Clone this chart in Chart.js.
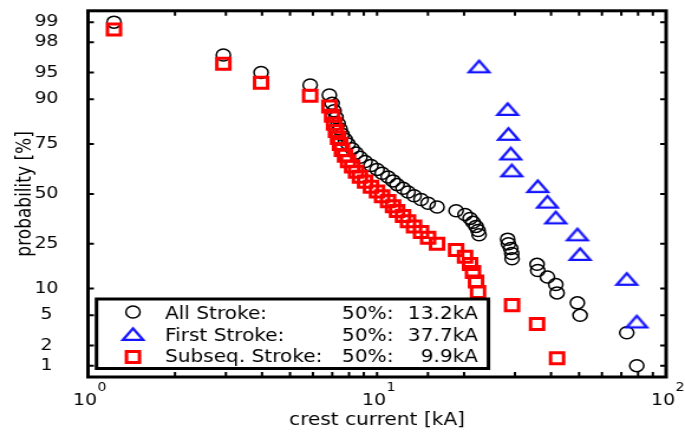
<!DOCTYPE html>
<html>
<head>
<meta charset="utf-8">
<script src="https://cdn.jsdelivr.net/npm/chart.js@4/dist/chart.umd.min.js"></script>
<style>
    html, body { margin: 0; padding: 0; background: #fff; overflow: hidden; }
    /* the source picture is stretched sideways, so the chart is drawn narrower and widened */
    #wrap { width: 580px; height: 434px; transform: scaleX(1.181); transform-origin: 0 0; }
</style>
</head>
<body>
<div id="wrap"><canvas id="chart"></canvas></div>
<script>
// crest current [kA], sorted ascending
const allCurrent = [1.23, 2.94, 3.97, 5.87, 6.84, 6.99, 7.10, 7.21, 7.33, 7.45,
    7.56, 7.75, 7.94, 8.20, 8.46, 8.73, 9.09, 9.53, 10.0, 10.41,
    10.92, 11.36, 11.73, 12.30, 12.80, 13.43, 14.20, 15.02, 16.13, 18.77,
    20.16, 20.98, 21.48, 22.00, 22.36, 22.54, 28.30, 28.47, 29.01, 29.25,
    29.32, 35.78, 35.98, 38.85, 41.53, 41.96, 49.33, 50.40, 73.11, 79.17]
const allProb = [99, 97, 95, 93, 91, 89, 87, 85, 83, 81,
    79, 77, 75, 73, 71, 69, 67, 65, 63, 61,
    59, 57, 55, 53, 51, 49, 47, 45, 43, 41,
    39, 37, 35, 33, 31, 29, 27, 25, 23, 21,
    19, 17, 15, 13, 11, 9, 7, 5, 3, 1]

const firstCurrent = [22.54, 28.30, 28.47, 29.01, 29.25, 35.98, 38.85, 41.53, 49.33, 50.40, 73.11, 79.17]
const firstProb = [95.8, 87.5, 79.2, 70.8, 62.5, 54.2, 45.8, 37.5, 29.2, 20.8, 12.5, 4.2]

const subCurrent = [1.23, 2.94, 3.97, 5.87, 6.84, 6.99, 7.10, 7.21, 7.33, 7.45,
    7.56, 7.75, 7.94, 8.20, 8.46, 8.73, 9.09, 9.53, 10.0, 10.41,
    10.92, 11.36, 11.73, 12.30, 12.80, 13.43, 14.20, 15.02, 16.13, 18.77,
    20.16, 20.98, 21.48, 22.00, 22.36, 29.32, 35.78, 41.96]
const subProb = [98.7, 96.1, 93.4, 90.8, 88.2, 85.5, 82.9, 80.3, 77.6, 75.0,
    72.4, 69.7, 67.1, 64.5, 61.8, 59.2, 56.6, 53.9, 51.3, 48.7,
    46.1, 43.4, 40.8, 38.2, 35.5, 32.9, 30.3, 27.6, 25.0, 22.4,
    19.7, 17.1, 14.5, 11.8, 9.2, 6.6, 3.9, 1.3]

const probTicks = [1, 2, 5, 10, 25, 50, 75, 90, 95, 98, 99]
const legendNames = ['All Stroke:', 'First Stroke:', 'Subseq. Stroke:']
const legendMedians = ['13.2kA', '37.7kA', '9.9kA']

// inverse normal cdf (Acklam)
function probit(p) {
    const a = [-39.69683028665376, 220.9460984245205, -275.9285104469687, 138.3577518672690, -30.66479806614716, 2.506628277459239]
    const b = [-54.47609879822406, 161.5858368580409, -155.6989798598866, 66.80131188771972, -13.28068155288572]
    const c = [-0.007784894002430293, -0.3223964580411365, -2.400758277161838, -2.549732539343734, 4.374664141464968, 2.938163982698783]
    const d = [0.007784695709041462, 0.3224671290700398, 2.445134137142996, 3.754408661907416]
    const tail = q => (((((c[0] * q + c[1]) * q + c[2]) * q + c[3]) * q + c[4]) * q + c[5]) /
        ((((d[0] * q + d[1]) * q + d[2]) * q + d[3]) * q + 1)
    if (p < 0.02425) return tail(Math.sqrt(-2 * Math.log(p)))
    if (p > 1 - 0.02425) return -tail(Math.sqrt(-2 * Math.log(1 - p)))
    const q = p - 0.5, r = q * q
    return (((((a[0] * r + a[1]) * r + a[2]) * r + a[3]) * r + a[4]) * r + a[5]) * q /
        (((((b[0] * r + b[1]) * r + b[2]) * r + b[3]) * r + b[4]) * r + 1)
}

function normCdf(z) {
    const t = 1 / (1 + 0.2316419 * Math.abs(z))
    const y = 0.3989423 * Math.exp(-z * z / 2) *
        t * (0.3193815 + t * (-0.3565638 + t * (1.781478 + t * (-1.821256 + t * 1.330274))))
    return z > 0 ? 1 - y : y
}

// normal probability paper axis
class ProbitScale extends Chart.Scale {
    determineDataLimits() {
        this.min = this.options.min
        this.max = this.options.max
    }
    buildTicks() {
        return probTicks.filter(v => v >= this.min && v <= this.max).map(v => ({ value: v }))
    }
    getLabelForValue(v) {
        return String(v)
    }
    getPixelForValue(v) {
        const z0 = probit(this.min / 100), z1 = probit(this.max / 100)
        return this.getPixelForDecimal((probit(v / 100) - z0) / (z1 - z0))
    }
    getPixelForTick(i) {
        return this.getPixelForValue(this.ticks[i].value)
    }
    getValueForPixel(px) {
        const z0 = probit(this.min / 100), z1 = probit(this.max / 100)
        return 100 * normCdf(z0 + this.getDecimalForPixel(px) * (z1 - z0))
    }
}
ProbitScale.id = 'probit'
ProbitScale.defaults = {}
Chart.register(ProbitScale)

function trianglePoint(w, h, lw, color) {
    const c = document.createElement('canvas')
    c.width = w + lw * 2 + 2
    c.height = h + lw * 2 + 2
    const g = c.getContext('2d')
    g.strokeStyle = color
    g.lineWidth = lw
    g.beginPath()
    g.moveTo(c.width / 2, lw + 1)
    g.lineTo(c.width / 2 + w / 2, lw + 1 + h)
    g.lineTo(c.width / 2 - w / 2, lw + 1 + h)
    g.closePath()
    g.stroke()
    return c
}

const triangle = trianglePoint(17, 11.5, 2.4, '#1414ff')

const toPoints = (xs, ys) => xs.map((v, i) => ({ x: v, y: ys[i] }))

const frame = {
    id: 'frame',
    afterDraw(chart) {
        const { ctx, chartArea: a, scales: { x, y } } = chart
        const sets = chart.data.datasets
        ctx.save()

        // inward ticks on all four sides
        ctx.strokeStyle = '#000'
        ctx.lineWidth = 2
        ctx.beginPath()
        x.ticks.forEach(t => {
            const px = x.getPixelForValue(t.value)
            ctx.moveTo(px, a.bottom); ctx.lineTo(px, a.bottom - 5)
            ctx.moveTo(px, a.top); ctx.lineTo(px, a.top + 5)
        })
        y.ticks.forEach(t => {
            const py = y.getPixelForValue(t.value)
            ctx.moveTo(a.left, py); ctx.lineTo(a.left + 5, py)
            ctx.moveTo(a.right, py); ctx.lineTo(a.right - 5, py)
        })
        ctx.stroke()
        ctx.lineWidth = 3
        ctx.strokeRect(a.left, a.top, a.right - a.left, a.bottom - a.top)

        // decade exponents
        ctx.fillStyle = '#000'
        ctx.font = '12px "DejaVu Sans"'
        ctx.textAlign = 'left'
        ctx.textBaseline = 'middle'
        x.ticks.forEach(t => {
            const e = Math.round(Math.log10(t.value))
            if (Math.abs(Math.log10(t.value) - e) < 1e-9) {
                ctx.fillText(String(e), x.getPixelForValue(t.value) + 8, 388)
            }
        })

        // legend box
        ctx.fillStyle = '#fff'
        ctx.fillRect(81.7, 299, 331.9, 69.5)
        ctx.lineWidth = 3
        ctx.strokeRect(81.7, 299, 331.9, 69.5)
        const rows = [315, 337, 358]
        const marks = [312, 334, 357]
        sets.forEach((ds, i) => {
            ctx.fillStyle = 'rgba(0,0,0,0)'
            ctx.strokeStyle = ds.borderColor
            ctx.lineWidth = ds.pointBorderWidth
            Chart.helpers.drawPoint(ctx, {
                pointStyle: ds.pointStyle,
                radius: ds.pointRadius,
                borderWidth: ds.pointBorderWidth,
                rotation: 0
            }, 112.6, marks[i])
            ctx.fillStyle = '#000'
            ctx.font = '17px "DejaVu Sans"'
            ctx.textAlign = 'left'
            ctx.fillText(legendNames[i], 139.7, rows[i])
            ctx.fillText('50%:', 289.6, rows[i])
            ctx.textAlign = 'right'
            ctx.fillText(legendMedians[i], 404.7, rows[i])
        })
        ctx.restore()
    }
}

Chart.defaults.font.family = '"DejaVu Sans"'
Chart.defaults.color = '#000'

const chart = new Chart(document.getElementById('chart'), {
    type: 'scatter',
    data: {
        datasets: [
            {
                label: 'All Stroke',
                data: toPoints(allCurrent, allProb),
                pointStyle: 'circle',
                pointRadius: 6,
                pointBorderWidth: 1.5,
                borderColor: '#000',
                backgroundColor: 'rgba(0,0,0,0)',
                order: 2
            },
            {
                label: 'First Stroke',
                data: toPoints(firstCurrent, firstProb),
                pointStyle: triangle,
                pointRadius: 8,
                pointBorderWidth: 2,
                borderColor: '#1414ff',
                backgroundColor: 'rgba(0,0,0,0)',
                order: 1
            },
            {
                label: 'Subseq. Stroke',
                data: toPoints(subCurrent, subProb),
                pointStyle: 'rect',
                pointRadius: 7.8,
                pointBorderWidth: 3,
                borderColor: '#ff0000',
                backgroundColor: 'rgba(0,0,0,0)',
                order: 0
            }
        ]
    },
    options: {
        responsive: true,
        maintainAspectRatio: false,
        animation: false,
        layout: { padding: { top: 5, right: 16, left: 0, bottom: 0 } },
        plugins: {
            legend: { display: false },
            tooltip: { enabled: false }
        },
        scales: {
            x: {
                type: 'logarithmic',
                min: 1,
                max: 100,
                grid: { display: false },
                border: { display: false },
                ticks: {
                    autoSkip: false,
                    maxRotation: 0,
                    padding: 6,
                    font: { size: 16 },
                    callback: v => Math.abs(Math.log10(v) - Math.round(Math.log10(v))) < 1e-9 ? '10 ' : ''
                },
                title: {
                    display: true,
                    text: 'crest current [kA]',
                    font: { size: 17 },
                    padding: { top: 0, bottom: 3 }
                },
                afterFit: s => { s.height = 57; s.paddingLeft = 0; s.paddingRight = 0 }
            },
            y: {
                type: 'probit',
                min: 0.657,
                max: 99.343,
                grid: { display: false },
                border: { display: false },
                ticks: {
                    crossAlign: 'center',
                    padding: 17,
                    font: { size: 16 }
                },
                title: {
                    display: true,
                    text: 'probability [%]',
                    font: { size: 17 },
                    padding: { top: 11, bottom: 0 }
                },
                afterFit: s => { s.width = 74.5; s.paddingTop = 0; s.paddingBottom = 0 }
            }
        }
    },
    plugins: [frame]
})
</script>
</body>
</html>
